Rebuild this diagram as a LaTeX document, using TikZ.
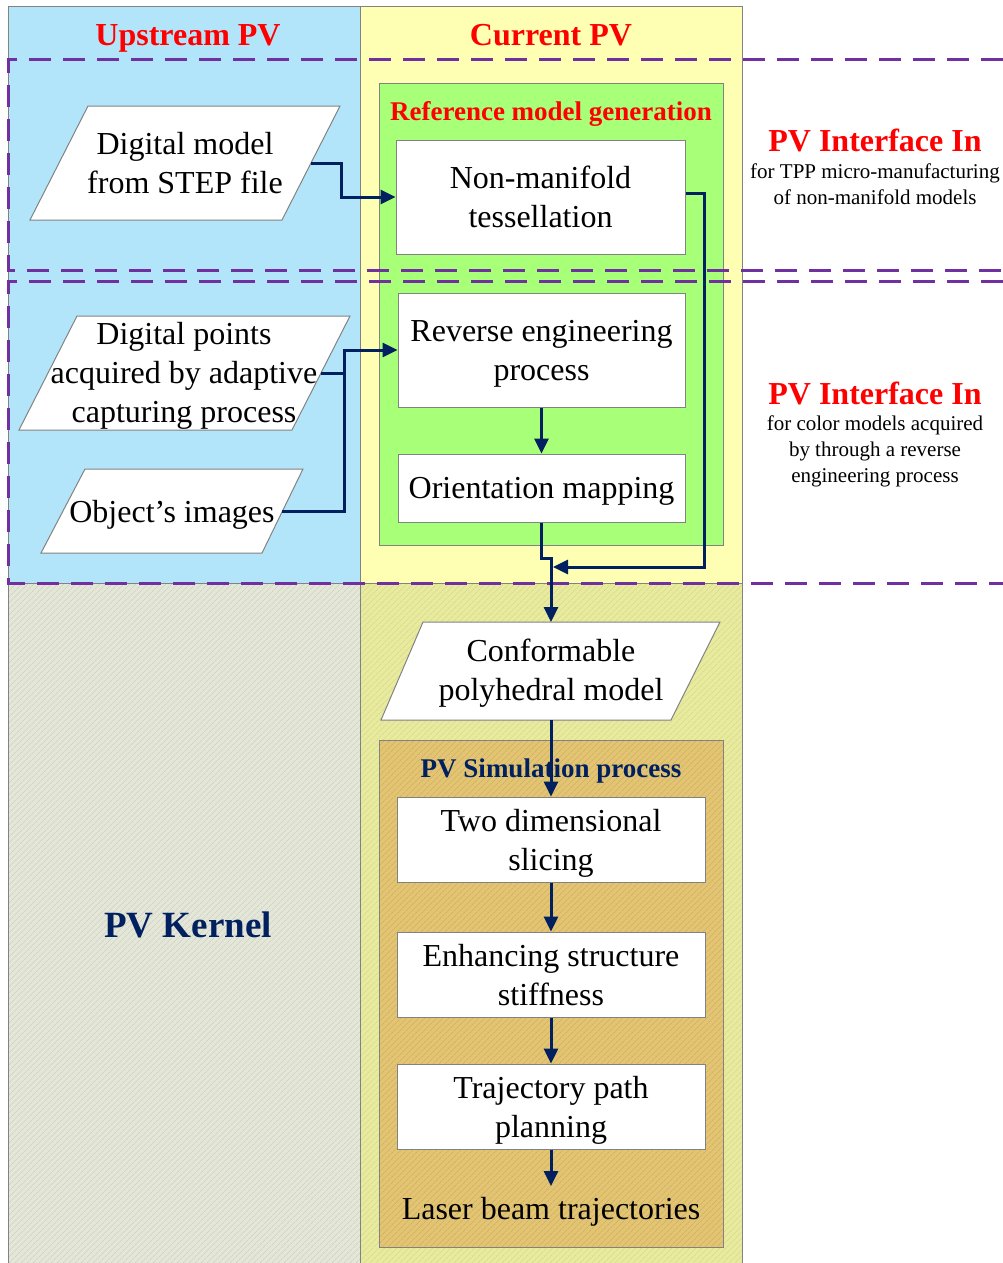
\documentclass[tikz,border=0pt]{standalone}
\usepackage{fontspec}
\setmainfont{Liberation Serif}
\usetikzlibrary{arrows.meta,patterns.meta}
\definecolor{upblue}{RGB}{179,229,250}
\definecolor{curyel}{RGB}{255,255,179}
\definecolor{refgreen}{RGB}{168,255,120}
\definecolor{kergray}{RGB}{228,230,216}
\definecolor{kerhatch}{RGB}{208,212,196}
\definecolor{keryel}{RGB}{232,234,160}
\definecolor{keryelhatch}{RGB}{216,220,132}
\definecolor{simtan}{RGB}{226,196,114}
\definecolor{simhatch}{RGB}{208,178,100}
\definecolor{ifpurple}{RGB}{112,48,160}
\definecolor{navy}{RGB}{0,32,96}
\definecolor{bordergray}{RGB}{130,130,130}
\definecolor{titlered}{RGB}{255,0,0}
\begin{document}
\begin{tikzpicture}[x=1pt,y=-1pt,
  frame/.style={draw=bordergray, line width=1pt},
  box/.style={draw=bordergray, line width=1pt, fill=white, align=center, font=\fontsize{32}{39}\selectfont, inner sep=0pt, text depth=0pt},
  txt/.style={align=center, font=\fontsize{32}{39}\selectfont, inner sep=0pt, text depth=0pt},
  para/.style={draw=bordergray, line width=1pt, fill=white},
  hdr/.style={font=\fontsize{32}{39}\selectfont\bfseries, text=titlered, inner sep=0pt, text depth=0pt},
  subhdr/.style={font=\fontsize{27}{32}\selectfont\bfseries, inner sep=0pt, text depth=0pt},
  note/.style={align=center, font=\fontsize{21}{26}\selectfont, inner sep=0pt},
  conn/.style={draw=navy, line width=3pt},
  arr/.style={conn, -{Triangle[length=15pt,width=14pt]}},
  ifline/.style={draw=ifpurple, line width=3pt, dash pattern=on 22pt off 12pt},
  hatch/.style={pattern={Lines[angle=45,distance=4pt,line width=0.8pt]}, pattern color=#1}
]
\useasboundingbox (0,0) rectangle (1003,1263);
% columns
\fill[upblue] (8,7) rectangle (360,583);
\fill[curyel] (360,7) rectangle (742,583);
\fill[kergray] (8,583) rectangle (360,1270);
\fill[hatch=kerhatch] (8,583) rectangle (360,1270);
\fill[keryel] (360,583) rectangle (742,1270);
\fill[hatch=keryelhatch] (360,583) rectangle (742,1270);
\draw[frame] (8,1270) -- (8,7) -- (742,7) -- (742,1270);
\draw[frame] (360,7) -- (360,1270);
\draw[frame] (8,583) -- (742,583);
% group boxes
\draw[frame, fill=refgreen] (379,83) rectangle (723,545);
\fill[simtan] (379,740) rectangle (723,1247);
\fill[hatch=simhatch] (379,740) rectangle (723,1247);
\draw[frame] (379,740) rectangle (723,1247);
% headers
\node[hdr] (uphdr) at (188,35) {Upstream PV};
\node[hdr] (curhdr) at (551,35) {Current PV};
\node[subhdr, text=titlered] (refhdr) at (551,111) {Reference model generation};
\node[subhdr, text=navy] (simhdr) at (551,768) {PV Simulation process};
\node[font=\fontsize{37}{44}\selectfont\bfseries, text=navy, inner sep=0pt] (kernel) at (188,925) {PV Kernel};
\node[hdr] (if1) at (875,140) {PV Interface In};
\node[note] (if1n) at (875,184.5) {for TPP micro-manufacturing\\of non-manifold models};
\node[hdr] (if2) at (875,393) {PV Interface In};
\node[note] (if2n) at (875,451) {for color models acquired\\by through a reverse\\engineering process};
% interface dashed regions
\draw[ifline] (1003,60) -- (8,60) -- (8,270) -- (1003,270);
\draw[ifline] (1003,281) -- (8,281) -- (8,583) -- (1003,583);
% parallelograms
\draw[para] (88,106) -- (340,106) -- (282,220) -- (30,220) -- cycle;
\node[txt] (dmf) at (185,163) {Digital model\\from STEP file};
\draw[para] (77,316) -- (350,316) -- (292,430) -- (19,430) -- cycle;
\node[txt] (dpt) at (184,372) {Digital points\\acquired by adaptive\\capturing process};
\draw[para] (85,469) -- (303,469) -- (262,553) -- (41,553) -- cycle;
\node[txt] (obj) at (172,511) {Object's images};
\draw[para] (423,622) -- (720,622) -- (671,720) -- (381,720) -- cycle;
\node[txt] (cpm) at (551,670) {Conformable\\polyhedral model};
% boxes
\node[box, minimum width=289pt, minimum height=114pt] (nmt) at (540.5,197) {Non-manifold\\tessellation};
\node[box, minimum width=287pt, minimum height=114pt] (rep) at (541.5,350) {Reverse engineering\\process};
\node[box, minimum width=287pt, minimum height=68pt] (orm) at (541.5,488) {Orientation mapping};
\node[box, minimum width=308pt, minimum height=85pt] (tds) at (551,839.5) {Two dimensional\\slicing};
\node[box, minimum width=308pt, minimum height=85pt] (ess) at (551,974.5) {Enhancing structure\\stiffness};
\node[box, minimum width=308pt, minimum height=85pt] (tpp) at (551,1106.5) {Trajectory path\\planning};
\node[txt] (laser) at (551,1208) {Laser beam trajectories};
% connector end points
\coordinate (dmfR) at (311,163);
\coordinate (dptR) at (321,373);
\coordinate (objR) at (282,511);
\coordinate (cpmT) at (551,622);
\coordinate (cpmB) at (551,720);
\coordinate (merge) at (553,567);
\coordinate (laserT) at (551,1186);
% connectors
\draw[arr] (dmfR) -- (341,163) |- (nmt.west);
\draw[arr] ([yshift=4pt]nmt.east) -| (704,567) -- (merge);
\draw[arr] (dptR) -- (344,373) |- (rep.west);
\draw[conn] (objR) -| (344,373);
\draw[arr] (rep.south) -- (orm.north);
\draw[arr] (orm.south) -- (541.5,558) -- (551,558) -- (cpmT);
\draw[arr] (cpmB) -- (tds.north);
\draw[arr] (tds.south) -- (ess.north);
\draw[arr] (ess.south) -- (tpp.north);
\draw[arr] (tpp.south) -- (laserT);
\end{tikzpicture}
\end{document}
